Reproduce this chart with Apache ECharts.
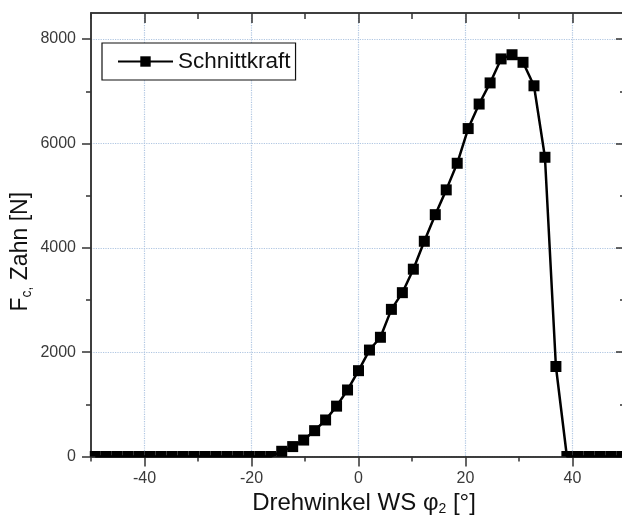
<!DOCTYPE html>
<html><head><meta charset="utf-8">
<script src="https://cdn.jsdelivr.net/npm/echarts@6/dist/echarts.min.js"></script>
<style>html,body{margin:0;padding:0;background:#fff}#c{width:622px;height:519px}</style>
</head><body><div id="c"></div>
<script>
// Drehwinkel WS phi2 [deg]
const angles = [-49.2, -47.15, -45.1, -43.05, -41.0, -38.95, -36.9, -34.85, -32.8, -30.75,
  -28.7, -26.65, -24.6, -22.55, -20.5, -18.45, -16.4, -14.35, -12.3, -10.25,
  -8.2, -6.15, -4.1, -2.05, 0, 2.05, 4.1, 6.15, 8.2, 10.25,
  12.3, 14.35, 16.4, 18.45, 20.5, 22.55, 24.6, 26.65, 28.7, 30.75,
  32.8, 34.85, 36.9, 38.95, 41.0, 43.05, 45.1, 47.15, 49.2];
// Schnittkraft Fc [N]
const forces = [0, 0, 0, 0, 0, 0, 0, 0, 0, 0,
  0, 0, 0, 0, 0, 0, 0, 100, 190, 315,
  495, 700, 965, 1275, 1645, 2040, 2285, 2820, 3140, 3590,
  4125, 4635, 5110, 5620, 6285, 6755, 7160, 7620, 7700, 7555,
  7105, 5735, 1725, 0, 0, 0, 0, 0, 0];
const xMajorTicks = [-40, -20, 0, 20, 40];
const xMinorTicks = [-50, -30, -10, 10, 30, 50];
const yMajorTicks = [0, 2000, 4000, 6000, 8000];
const yMinorTicks = [1000, 3000, 5000, 7000];
const seriesName = 'Schnittkraft';
const xTitle = '{a|Drehwinkel WS φ}{s|2}{a| [°]}';
const yTitle = '{a|F}{s|c,}{a| Zahn [N]}';

const FONT = "'Liberation Sans', Arial, sans-serif";
const axisCol = '#333';
const lineSt = { color: axisCol, width: 1.5 };
const labelSt = { fontSize: 16, color: '#3a3a3a', fontFamily: FONT, formatter: v => String(v) };
const gridLine = { show: true, lineStyle: { color: '#b0c6e2', type: 'dotted', width: 1.2 } };
const rich = {
  a: { fontSize: 24, lineHeight: 26, color: '#111', fontFamily: FONT },
  s: { fontSize: 14, lineHeight: 12, verticalAlign: 'bottom', color: '#111', fontFamily: FONT }
};

function xAx(pos, ticks, len, inside, extra) {
  return Object.assign({
    type: 'value', min: -50, max: 50, position: pos, gridIndex: 0,
    axisLine: { show: true, onZero: false, lineStyle: lineSt },
    axisTick: { show: true, inside: inside, length: len, customValues: ticks, lineStyle: lineSt },
    axisLabel: { show: false },
    splitLine: { show: false }
  }, extra || {});
}
function yAx(pos, ticks, len, inside, extra) {
  return Object.assign({
    type: 'value', min: 0, max: 8500, position: pos, gridIndex: 0,
    axisLine: { show: true, onZero: false, lineStyle: lineSt },
    axisTick: { show: true, inside: inside, length: len, customValues: ticks, lineStyle: lineSt },
    axisLabel: { show: false },
    splitLine: { show: false }
  }, extra || {});
}

const chart = echarts.init(document.getElementById('c'), null, { renderer: 'canvas' });
chart.setOption({
  animation: false,
  backgroundColor: '#fff',
  textStyle: { fontFamily: FONT },
  grid: { left: 91, top: 13, right: -4, bottom: 62.5, outerBoundsMode: 'none', containLabel: false },
  legend: {
    data: [seriesName], left: 102, top: 43,
    itemWidth: 55, itemHeight: 13, itemGap: 0,
    padding: [7, 5, 7, 15],
    borderColor: '#111', borderWidth: 1.2, backgroundColor: '#fff',
    textStyle: { fontSize: 22.5, color: '#111', fontFamily: FONT }
  },
  xAxis: [
    xAx('bottom', xMajorTicks, 10, false, {
      axisLabel: { show: true, customValues: xMajorTicks, margin: 14, ...labelSt },
      splitLine: gridLine,
      name: xTitle, nameLocation: 'middle', nameGap: 34, nameMoveOverlap: false,
      nameTextStyle: { padding: [0, 0, 0, 11], rich: rich }
    }),
    xAx('bottom', xMinorTicks, 5, false),
    xAx('top', xMajorTicks, 10, true),
    xAx('top', xMinorTicks, 6, true)
  ],
  yAxis: [
    yAx('left', yMajorTicks, 9, false, {
      axisLabel: { show: true, customValues: yMajorTicks, margin: 15, ...labelSt },
      splitLine: gridLine,
      name: yTitle, nameLocation: 'middle', nameGap: 57, nameMoveOverlap: false,
      nameTextStyle: { padding: [0, 34, 0, 0], rich: {
        a: { fontSize: 23, lineHeight: 26, color: '#111', fontFamily: FONT },
        s: rich.s
      } }
    }),
    yAx('left', yMinorTicks, 5, false),
    yAx('right', yMajorTicks, 10, true),
    yAx('right', yMinorTicks, 6, true)
  ],
  series: [{
    type: 'line', name: seriesName, xAxisIndex: 0, yAxisIndex: 0,
    data: angles.map((a, i) => [a, forces[i]]),
    symbol: 'rect',
    symbolSize: v => (v[1] === 0 ? [11, 5.5] : 11),
    symbolOffset: v => (v[1] === 0 ? [0, -2.75] : [0, 0]),
    showSymbol: true,
    lineStyle: { color: '#000', width: 2.5 },
    itemStyle: { color: '#000' },
    z: 3
  }]
});
</script>
</body></html>
